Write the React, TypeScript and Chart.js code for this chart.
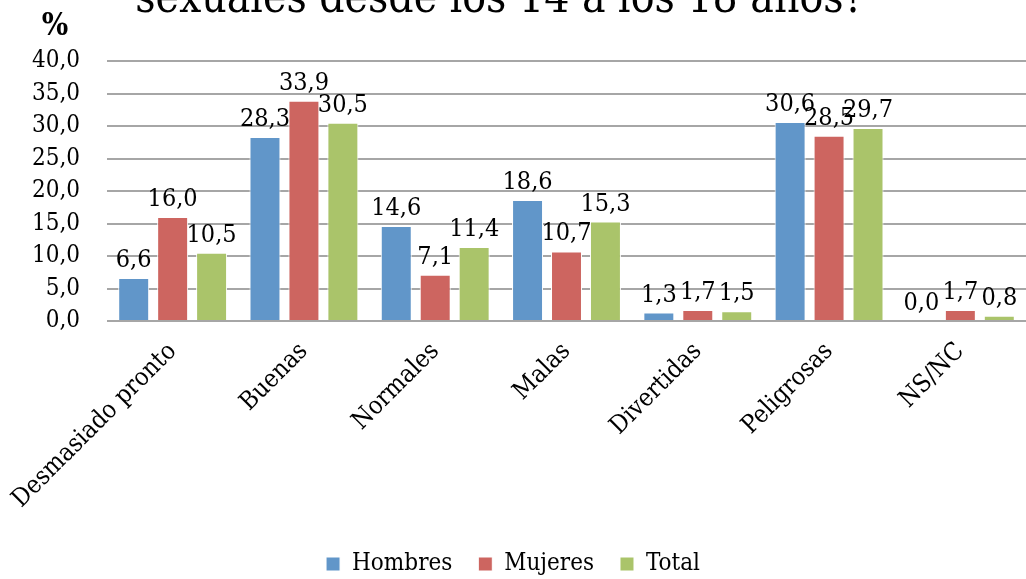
import React, { useEffect, useRef } from "react";
import { Chart, registerables } from "chart.js";

Chart.register(...registerables);

const categories = ["Desmasiado pronto", "Buenas", "Normales", "Malas", "Divertidas", "Peligrosas", "NS/NC"];
const hombres = [6.6, 28.3, 14.6, 18.6, 1.3, 30.6, 0.0];
const mujeres = [16.0, 33.9, 7.1, 10.7, 1.7, 28.5, 1.7];
const total = [10.5, 30.5, 11.4, 15.3, 1.5, 29.7, 0.8];
const seriesNames = ["Hombres", "Mujeres", "Total"];
const titleText = "sexuales desde los 14 a los 18 años?";
const unitText = "%";

const FONT = "'DejaVu Serif Condensed', 'DejaVu Serif', serif";
const fmt = (v: number) => v.toFixed(1).replace(".", ",");

const labelPlugin = {
  id: "valueLabels",
  afterDatasetsDraw(chart: any) {
    const ctx = chart.ctx;
    ctx.save();
    ctx.font = `25px ${FONT}`;
    ctx.fillStyle = "#000";
    ctx.textAlign = "center";
    ctx.textBaseline = "alphabetic";
    chart.data.datasets.forEach((ds: any, i: number) => {
      const meta = chart.getDatasetMeta(i);
      meta.data.forEach((bar: any, j: number) => {
        ctx.fillText(fmt(ds.data[j]), bar.x, bar.y - 11);
      });
    });
    ctx.restore();
  },
};

const titlePlugin = {
  id: "cutTitle",
  afterDraw(chart: any) {
    const ctx = chart.ctx;
    ctx.save();
    ctx.fillStyle = "#000";
    ctx.textAlign = "center";
    ctx.textBaseline = "alphabetic";
    ctx.font = `44px ${FONT}`;
    ctx.fillText(titleText, 500, 12);
    ctx.font = `bold 31px ${FONT}`;
    ctx.fillText(unitText, 55, 35);
    ctx.restore();
  },
};

export default function App() {
  const ref = useRef<HTMLCanvasElement>(null);
  useEffect(() => {
    if (!ref.current) return;
    const colors = ["#6196C9", "#CD6560", "#AAC46A"];
    const chart = new Chart(ref.current, {
      type: "bar",
      data: {
        labels: categories,
        datasets: [hombres, mujeres, total].map((d, i) => ({
          label: seriesNames[i],
          data: d,
          backgroundColor: colors[i],
          borderColor: "#ffffff",
          borderWidth: 1,
          categoryPercentage: 0.89,
          barPercentage: 0.795,
        })),
      },
      options: {
        responsive: false,
        animation: false,
        layout: { padding: { top: 61, right: 0, left: 0, bottom: -7 } },
        plugins: {
          legend: {
            position: "bottom",
            labels: {
              font: { family: FONT, size: 24 },
              color: "#000",
              boxWidth: 14,
              boxHeight: 14,
              padding: 26,
            },
          },
          tooltip: { enabled: false },
          title: { display: false },
        },
        scales: {
          x: {
            grid: { display: false },
            border: { display: false },
            ticks: {
              font: { family: FONT, size: 25 },
              color: "#000",
              maxRotation: 45,
              minRotation: 45,
              padding: 8,
            },
            afterFit(scale: any) {
              scale.height = 205;
            },
          },
          y: {
            min: 0,
            max: 40,
            ticks: {
              stepSize: 5,
              font: { family: FONT, size: 24 },
              color: "#000",
              padding: 27,
              callback: (v: any) => fmt(Number(v)),
            },
            grid: { color: "#A6A6A6", lineWidth: 2, drawTicks: false },
            border: { display: false },
            afterFit(scale: any) {
              scale.width = 107;
            },
          },
        },
      },
      plugins: [labelPlugin, titlePlugin],
    });
    return () => chart.destroy();
  }, []);
  return (
    <div style={{ position: "absolute", left: 0, top: 0, width: 1026, height: 579, background: "#fff" }}>
      <canvas ref={ref} width={1026} height={579} />
    </div>
  );
}
